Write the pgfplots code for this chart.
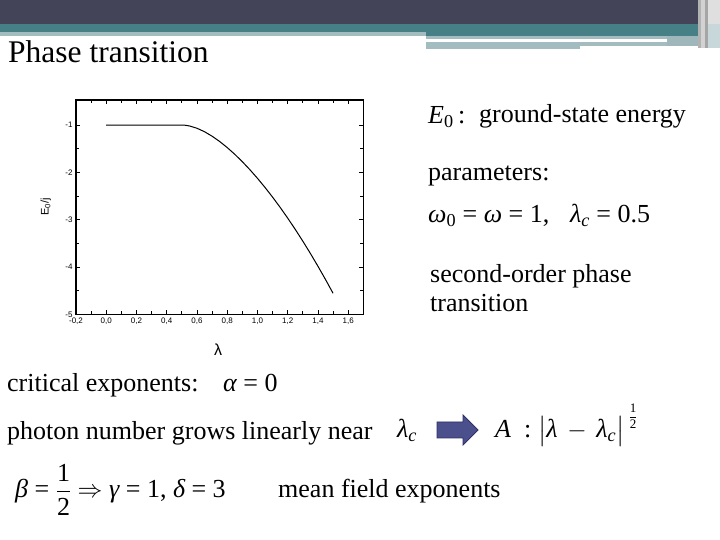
\documentclass[border=0pt]{standalone}
\usepackage{amsmath}
\usepackage{fontspec}
\setmainfont{Liberation Serif}
\newfontfamily\arial{Liberation Sans}
\usepackage{pgfplots}
\pgfplotsset{compat=1.18}
\definecolor{darkband}{HTML}{434458}
\definecolor{tealband}{HTML}{467F86}
\definecolor{lightband}{HTML}{A3BCC0}
\definecolor{arrowfill}{HTML}{4B4F8C}
\definecolor{arrowedge}{HTML}{2E3166}
\newcommand{\body}{\fontsize{26}{31}\selectfont}
\begin{document}
\begin{tikzpicture}[x=1pt,y=1pt]
\useasboundingbox (0,0) rectangle (720,540);
\fill[white] (0,0) rectangle (720,540);
% banner (y measured from top: Y -> 540-Y)
\fill[darkband] (0,540) rectangle (698,516);
\fill[tealband] (0,516) rectangle (698,508);
\fill[tealband] (426,508) rectangle (698,504);
\fill[lightband] (0,508) rectangle (426,504);
\fill[lightband] (426,504) rectangle (667,501);
\fill[lightband] (426,498) rectangle (580,491);
\fill[lightband] (580,498) rectangle (667,494);
\fill[lightband!90!gray] (667,504) rectangle (698,494);
\fill[gray!60] (698,540) rectangle (701,492);
\fill[gray!35] (701,540) rectangle (705,492);
\fill[gray!70] (705,540) rectangle (708,492);
\fill[gray!25] (708,540) rectangle (720,492);
\fill[lightband!60] (708,516) rectangle (720,492);
% title
\node[anchor=base west, inner sep=0pt] at (8,477) {\fontsize{31.5}{36}\selectfont Phase transition};
% right-hand text
\node[anchor=base west, inner sep=0pt] at (428,416) {\body\itshape E\textsubscript{\upshape 0}\upshape\,:};
\node[anchor=base west, inner sep=0pt] at (479,417) {\body ground-state energy};
\node[anchor=base west, inner sep=0pt] at (428,359) {\body parameters:};
\node[anchor=base west, inner sep=0pt] at (428,317) {\body {\itshape ω}\textsubscript{0} = {\itshape ω} = 1,\hspace{0.8em}{\itshape λ}\textsubscript{\itshape c} = 0.5};
\node[anchor=base west, inner sep=0pt] at (430,257) {\body second-order phase};
\node[anchor=base west, inner sep=0pt] at (430,228) {\body transition};
% bottom text
\node[anchor=base west, inner sep=0pt] at (7,148) {\body critical exponents:};
\node[anchor=base west, inner sep=0pt] at (223,148) {\body {\itshape α} = 0};
\node[anchor=base west, inner sep=0pt] at (7,100) {\body photon number grows linearly near};
\node[anchor=base west, inner sep=0pt] at (397,102) {\body {\itshape λ}\textsubscript{\itshape c}};
\filldraw[fill=arrowfill, draw=arrowedge, line width=0.8pt]
  (437,118) -- (463,118) -- (463,125) -- (478,110) -- (463,95) -- (463,102) -- (437,102) -- cycle;
\node[anchor=base west, inner sep=0pt] at (495,102) {\body {\itshape A}\enspace:};
\node[anchor=base west, inner sep=0pt] at (538,102) {\body $\left|\text{\itshape λ}\,-\,\text{\itshape λ}_{\text{\itshape c}}\rule[-0.25em]{0pt}{1.05em}\right|$};
\node[inner sep=0pt] at (633,124) {\fontsize{13}{14}\selectfont$\dfrac{\text{1}}{\text{2}}$};
\node[anchor=base west, inner sep=0pt] at (15,42) {\body {\itshape β} = $\dfrac{\text{1}}{\text{2}}$\ $\Rightarrow$ {\itshape γ} = 1,\ {\itshape δ} = 3};
\node[anchor=base west, inner sep=0pt] at (278,42) {\body mean field exponents};
% chart
\coordinate (axsw) at (76,225.7);
\begin{axis}[
  at={(axsw)}, anchor=south west,
  scale only axis, width=287.3pt, height=214.3pt,
  xmin=-0.2, xmax=1.7, ymin=-5, ymax=-0.47,
  xtick={-0.2,0,0.2,0.4,0.6,0.8,1.0,1.2,1.4,1.6},
  xticklabels={{-0,2},{0,0},{0,2},{0,4},{0,6},{0,8},{1,0},{1,2},{1,4},{1,6}},
  ytick={-5,-4,-3,-2,-1},
  yticklabels={-5,-4,-3,-2,-1},
  minor x tick num=1, minor y tick num=1,
  tick align=inside,
  major tick length=4pt, minor tick length=3pt,
  axis line style={line width=1.1pt},
  every tick/.style={black, line width=0.7pt},
  tick label style={font=\arial\fontsize{8}{9}\selectfont},
  xticklabel style={text height=5.8pt, text depth=1pt},
  xlabel={λ},
  ylabel={E\textsubscript{0}/j},
  xlabel style={font=\arial\fontsize{16}{18}\selectfont, at={(axis description cs:0.495,-0.165)}, anchor=center},
  ylabel style={font=\arial\fontsize{11}{13}\selectfont, at={(axis description cs:-0.105,0.5)}, anchor=center},
]
\addplot[black, line width=1pt] coordinates {
(0.0,-1) (0.5,-1) (0.52,-1.0031) (0.55,-1.0182) (0.6,-1.0672) (0.65,-1.1409)
(0.7,-1.2351) (0.75,-1.3472) (0.8,-1.4753) (0.85,-1.618) (0.9,-1.7743)
(0.95,-1.9435) (1.0,-2.125) (1.05,-2.3184) (1.1,-2.5233) (1.15,-2.7395)
(1.2,-2.9668) (1.25,-3.205) (1.3,-3.454) (1.35,-3.7136) (1.4,-3.9838)
(1.45,-4.2645) (1.5,-4.5556)
};
\end{axis}
\end{tikzpicture}
\end{document}
